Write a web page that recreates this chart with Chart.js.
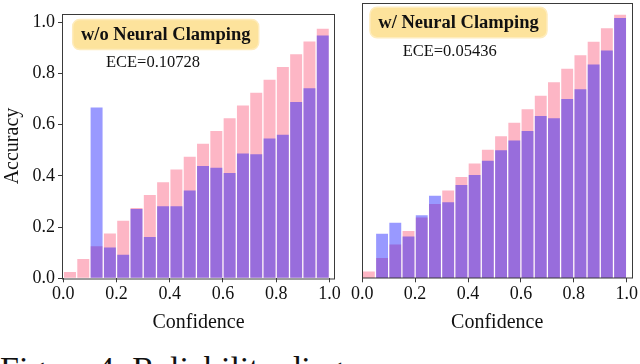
<!DOCTYPE html>
<html><head><meta charset="utf-8">
<script src="https://cdn.jsdelivr.net/npm/chart.js@4"></script>
<style>
html,body{margin:0;padding:0;background:#fff;width:640px;height:364px;overflow:hidden;position:relative}
#c1{position:absolute;left:0;top:0;width:345px;height:340px}
#c2{position:absolute;left:345px;top:0;width:295px;height:340px}
#cap{position:absolute;left:0;top:352px;font-family:"Liberation Serif",serif;font-size:34px;line-height:34px;white-space:nowrap;color:#111}
</style></head><body>
<canvas id="c1" width="345" height="340"></canvas>
<canvas id="c2" width="295" height="340"></canvas>
<div id="cap">Figure 4: Reliability diagrams</div>
<script>
// bin centres (confidence bins of width 0.05)
const binCenters = [0.025,0.075,0.125,0.175,0.225,0.275,0.325,0.375,0.425,0.475,0.525,0.575,0.625,0.675,0.725,0.775,0.825,0.875,0.925,0.975];
// expected accuracy (pink "gap" bars)
const expectedLeft  = [0.025,0.075,0.125,0.175,0.225,0.275,0.325,0.375,0.425,0.475,0.525,0.575,0.625,0.675,0.725,0.775,0.825,0.875,0.925,0.975];
const expectedRight = [0.025,0.075,0.125,0.175,0.225,0.275,0.325,0.375,0.425,0.475,0.525,0.575,0.625,0.675,0.725,0.775,0.825,0.875,0.925,0.975];
// measured accuracy (blue bars)
const accuracyLeft  = [null,null,0.667,0.120,0.092,0.271,0.161,0.281,0.281,0.343,0.439,0.432,0.411,0.487,0.484,0.546,0.561,0.689,0.742,0.948];
const accuracyRight = [null,0.165,0.205,0.155,0.233,0.305,0.281,0.345,0.382,0.435,0.474,0.510,0.545,0.600,0.592,0.663,0.699,0.791,0.842,0.963];
const xTicks = [0.0,0.2,0.4,0.6,0.8,1.0];
const yTicks = [0.0,0.2,0.4,0.6,0.8,1.0];
const titleLeft = "w/o Neural Clamping";
const titleRight = "w/ Neural Clamping";
const eceLeft = "ECE=0.10728";
const eceRight = "ECE=0.05436";

const SERIF = '"Liberation Serif", "DejaVu Serif", serif';
const INK = '#111';
const SPINE = '#3a3a3a';

const framePlugin = {
  id: 'frame',
  afterDraw(chart) {
    const {ctx, chartArea: a} = chart;
    ctx.save();
    ctx.strokeStyle = SPINE;
    ctx.lineWidth = 1;
    ctx.strokeRect(Math.round(a.left) + 0.5, Math.round(a.top) + 0.5,
                   Math.round(a.right - a.left) - 1, Math.round(a.bottom - a.top) - 0.5);
    ctx.restore();
  }
};

const notePlugin = {
  id: 'note',
  afterDatasetsDraw(chart, args, o) {
    const {ctx, chartArea: a} = chart;
    const x = a.left + o.boxDx, y = a.top + o.boxDy, w = o.boxW, h = o.boxH, r = 7;
    ctx.save();
    ctx.beginPath();
    ctx.moveTo(x + r, y);
    ctx.arcTo(x + w, y, x + w, y + h, r);
    ctx.arcTo(x + w, y + h, x, y + h, r);
    ctx.arcTo(x, y + h, x, y, r);
    ctx.arcTo(x, y, x + w, y, r);
    ctx.closePath();
    ctx.fillStyle = '#fde39c';
    ctx.fill();
    ctx.strokeStyle = '#feecbd';
    ctx.lineWidth = 1.5;
    ctx.stroke();
    ctx.fillStyle = INK;
    ctx.textAlign = 'center';
    ctx.textBaseline = 'middle';
    ctx.font = 'bold 18.5px ' + SERIF;
    ctx.fillText(o.title, x + w / 2, y + h / 2 + 1);
    ctx.font = '16.5px ' + SERIF;
    ctx.fillText(o.ece, a.left + o.eceDx, a.top + o.eceDy);
    ctx.restore();
  }
};

function makeChart(id, acc, exp, cfg) {
  const ds = (vals) => binCenters.map((c, i) => ({x: c, y: vals[i]}));
  return new Chart(document.getElementById(id), {
    type: 'bar',
    data: {
      datasets: [
        {label: 'Accuracy', data: ds(acc), backgroundColor: 'rgba(0,0,255,0.4)', order: 0},
        {label: 'Expected', data: ds(exp), backgroundColor: '#fdb6c5', order: 1}
      ]
    },
    options: {
      responsive: false,
      animation: false,
      devicePixelRatio: 1,
      grouped: false,
      barPercentage: 0.9,
      categoryPercentage: 1.0,
      borderWidth: 0,
      layout: {padding: cfg.padding},
      plugins: {
        legend: {display: false},
        tooltip: {enabled: false},
        note: cfg.note
      },
      scales: {
        x: {
          type: 'linear',
          offset: false,
          min: cfg.xmin, max: cfg.xmax,
          afterBuildTicks: s => { s.ticks = xTicks.map(v => ({value: v})); },
          afterFit: s => { s.height = 61.7; },
          border: {display: false},
          grid: {drawOnChartArea: false, drawTicks: true, tickLength: 4, color: SPINE, offset: false},
          ticks: {font: {family: SERIF, size: 18}, color: INK, padding: 1, maxRotation: 0,
                  callback: v => Number(v).toFixed(1)},
          title: {display: true, text: 'Confidence', font: {family: SERIF, size: 20}, color: INK,
                  padding: {top: 0, bottom: 5}}
        },
        y: {
          min: 0, max: cfg.ymax,
          afterBuildTicks: s => { s.ticks = yTicks.map(v => ({value: v})); },
          afterFit: s => { s.width = cfg.yWidth; },
          border: {display: false},
          grid: cfg.showY ? {drawOnChartArea: false, drawTicks: true, tickLength: 4, color: SPINE} : {display: false},
          ticks: {display: cfg.showY, font: {family: SERIF, size: 18}, color: INK, padding: 3,
                  callback: v => Number(v).toFixed(1)},
          title: {display: cfg.showY, text: 'Accuracy', font: {family: SERIF, size: 20}, color: INK,
                  padding: {top: 1, bottom: 0}}
        }
      }
    },
    plugins: [framePlugin, notePlugin]
  });
}

makeChart('c1', accuracyLeft, expectedLeft, {
  padding: {left: 0, right: 10, top: 3.3, bottom: 0},
  xmin: -0.005, xmax: 1.021, ymax: 1.033, yWidth: 62, showY: true,
  note: {title: titleLeft, ece: eceLeft, boxDx: 10.7, boxDy: 5.7, boxW: 186, boxH: 30, eceDx: 91, eceDy: 48.7}
});
makeChart('c2', accuracyRight, expectedRight, {
  padding: {left: 0, right: 7.3, top: 3.3, bottom: 0},
  xmin: -0.002, xmax: 1.0227, ymax: 1.017, yWidth: 16.7, showY: false,
  note: {title: titleRight, ece: eceRight, boxDx: 8.3, boxDy: 4, boxW: 177, boxH: 30.4, eceDx: 88, eceDy: 48.4}
});
</script>
</body></html>
